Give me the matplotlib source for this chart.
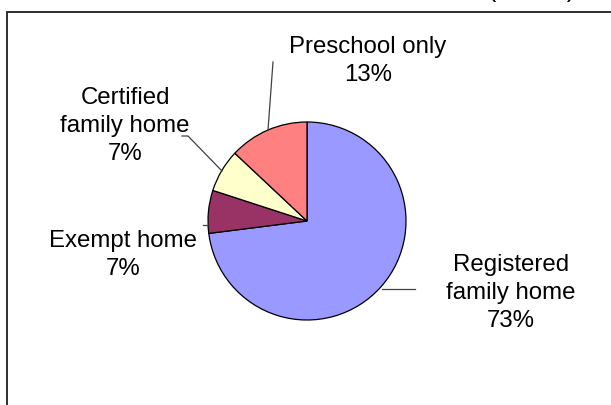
import matplotlib
matplotlib.use('Agg')
import matplotlib.pyplot as plt
from matplotlib.patches import Rectangle

# chart data
categories = ['Registered\nfamily home', 'Exempt home', 'Certified\nfamily home', 'Preschool only']
shares     = [73, 7, 7, 13]
colors     = ['#9999FF', '#993366', '#FFFFCC', '#FF8080']

# label layout (figure pixels, y measured from top)
label_xy   = [(511, 293), (123, 255), (125, 126), (368, 61)]
leaders    = [[(382, 290), (415, 290)],
              [(203, 226), (209, 226)],
              [(182, 137), (188, 137), (222, 172)],
              [(273, 63), (268, 131)]]

W, H = 611, 406
plt.rcParams['font.family'] = ['Liberation Sans', 'DejaVu Sans']

fig = plt.figure(figsize=(W / 100, H / 100), dpi=100)
fig.patch.set_facecolor('white')

# outer frame (only top and left edges are visible in the crop)
fig.patches.append(Rectangle((7 / W, -0.1), 1.2, (H - 13) / H + 0.1,
                             transform=fig.transFigure, fill=False,
                             edgecolor='#202020', lw=1.3))

# clipped title at the very top
fig.text(532 / W, 1 + 3.5 / H, '(n = 15)', ha='center', va='baseline', fontsize=18)

ax = fig.add_axes([0, 0, 1, 1])
ax.pie(shares, colors=colors, startangle=90, counterclock=False,
       center=(307, H - 222), radius=99,
       wedgeprops=dict(edgecolor='black', linewidth=0.9))
ax.set_xlim(0, W)
ax.set_ylim(0, H)
ax.axis('off')

for name, val, (x, y) in zip(categories, shares, label_xy):
    ax.text(x, H - y, '%s\n%d%%' % (name, val), ha='center', va='center',
            fontsize=17.3, linespacing=1.33)

for pts in leaders:
    xs = [p[0] for p in pts]
    ys = [H - p[1] for p in pts]
    ax.plot(xs, ys, color='#404040', lw=0.9)

fig.savefig('out.png', dpi=100)
